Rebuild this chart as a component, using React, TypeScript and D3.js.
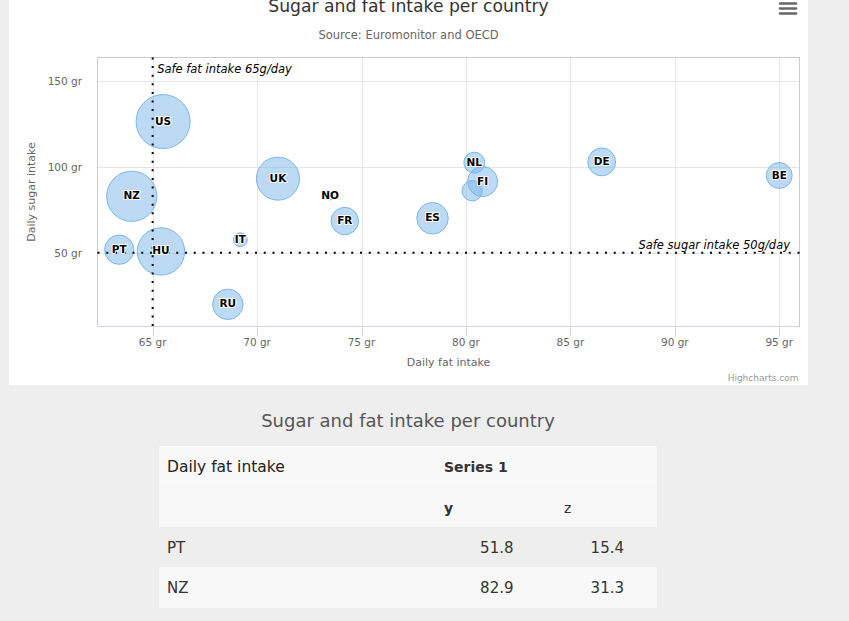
import React from "react";
import * as d3 from "d3";

const names = ["BE", "DE", "FI", "NL", "SE", "ES", "FR", "NO", "UK", "IT", "RU", "US", "HU", "PT", "NZ"];
const fatValues = [95, 86.5, 80.8, 80.4, 80.3, 78.4, 74.2, 73.5, 71, 69.2, 68.6, 65.5, 65.4, 63.4, 64];
const sugarValues = [95, 102.9, 91.5, 102.5, 86.1, 70.1, 68.5, 83.1, 93.2, 57.6, 20, 126.4, 50.8, 51.8, 82.9];
const zValues = [13.8, 14.7, 15.8, 12, 11.8, 16.6, 14.5, 10, 24.7, 10.4, 16, 35.3, 28.5, 15.4, 31.3];
const hiddenLabels = ["SE"];

const xTicks = [65, 70, 75, 80, 85, 90, 95];
const yTicks = [50, 100, 150];
const xExtent = [62.36, 95.97];
const yExtent = [7.1, 163.7];

const titleText = "Sugar and fat intake per country";
const subtitleText = "Source: Euromonitor and OECD";
const xTitle = "Daily fat intake";
const yTitle = "Daily sugar intake";
const fatLimit = 65;
const sugarLimit = 50;
const fatLimitLabel = "Safe fat intake 65g/day";
const sugarLimitLabel = "Safe sugar intake 50g/day";

const tableSeries = "Series 1";
const tableRows = ["PT", "NZ"];
const tableY = [51.8, 82.9];
const tableZ = [15.4, 31.3];

const FONT = "'DejaVu Sans', Verdana, sans-serif";

export default function App() {
  const W = 849, H = 621;
  const plot = { left: 97.5, right: 799.5, top: 57.5, bottom: 326.5 };
  const x = d3.scaleLinear().domain(xExtent).range([plot.left, plot.right]);
  const y = d3.scaleLinear().domain(yExtent).range([plot.bottom, plot.top]);
  const zMin = d3.min(zValues) as number;
  const zMax = d3.max(zValues) as number;
  const r = d3.scaleSqrt().domain([0, zMax - zMin]).range([4, 27]);

  const pts = names.map((n, i) => ({ name: n, fx: fatValues[i], sy: sugarValues[i], z: zValues[i] }));

  // table geometry
  const tL = 159, tR = 657, tTop = 446;
  const rowH = [40.5, 40.5, 40, 41, 40];
  const rowTops: number[] = [];
  let acc = tTop;
  rowH.forEach((h) => { rowTops.push(acc); acc += h; });

  return (
    <div style={{ position: "fixed", left: 0, top: 0, width: W, height: H, background: "#eeeeee" }}>
      <svg width={W} height={H} style={{ display: "block", fontFamily: FONT }}>
        <rect x={0} y={0} width={W} height={H} fill="#eeeeee" />
        {/* chart container */}
        <rect x={9} y={-20} width={799} height={405} fill="#ffffff" />
        {/* title */}
        <text x={408.5} y={11.5} textAnchor="middle" fontSize={17.2} fill="#333333">{titleText}</text>
        <text x={408.5} y={39} textAnchor="middle" fontSize={11.5} fill="#666666">{subtitleText}</text>
        {/* menu */}
        {[3.5, 8.5, 13.5].map((yy) => (
          <line key={yy} x1={780} x2={796} y1={yy} y2={yy} stroke="#666666" strokeWidth={2.5} strokeLinecap="round" />
        ))}
        {/* grid */}
        {xTicks.map((t) => (
          <line key={"gx" + t} x1={Math.round(x(t)) + 0.5} x2={Math.round(x(t)) + 0.5} y1={plot.top} y2={plot.bottom} stroke="#e6e6e6" />
        ))}
        {yTicks.map((t) => (
          <line key={"gy" + t} x1={plot.left} x2={plot.right} y1={Math.round(y(t)) + 0.5} y2={Math.round(y(t)) + 0.5} stroke="#e6e6e6" />
        ))}
        {/* plot border */}
        <rect x={plot.left} y={plot.top} width={plot.right - plot.left} height={plot.bottom - plot.top} fill="none" stroke="#cccccc" />
        <line x1={plot.left} x2={plot.right} y1={plot.bottom} y2={plot.bottom} stroke="#ccd6eb" />
        {xTicks.map((t) => (
          <line key={"tk" + t} x1={Math.round(x(t)) + 0.5} x2={Math.round(x(t)) + 0.5} y1={plot.bottom} y2={plot.bottom + 10} stroke="#ccd6eb" />
        ))}
        {/* tick labels */}
        {xTicks.map((t) => (
          <text key={"xl" + t} x={x(t)} y={346} textAnchor="middle" fontSize={10.5} fill="#666666">{t + " gr"}</text>
        ))}
        {yTicks.map((t) => (
          <text key={"yl" + t} x={82} y={y(t) + 4} textAnchor="end" fontSize={10.5} fill="#666666">{t + " gr"}</text>
        ))}
        <text x={(plot.left + plot.right) / 2} y={366} textAnchor="middle" fontSize={11} fill="#666666">{xTitle}</text>
        <text transform={`translate(34.5,${(plot.top + plot.bottom) / 2}) rotate(-90)`} textAnchor="middle" fontSize={11} fill="#666666">{yTitle}</text>
        {/* bubbles */}
        {pts.map((p) => (
          <circle key={"b" + p.name} cx={x(p.fx)} cy={y(p.sy)} r={r(p.z - zMin)} fill="rgba(124,181,236,0.5)" stroke="#7cb5ec" strokeWidth={1} />
        ))}
        {/* plot lines */}
        <line x1={x(fatLimit)} x2={x(fatLimit)} y1={plot.top} y2={plot.bottom} stroke="#000" strokeWidth={2} strokeDasharray="2,6.6" />
        <line x1={plot.left} x2={plot.right} y1={y(sugarLimit)} y2={y(sugarLimit)} stroke="#000" strokeWidth={2} strokeDasharray="2,6.75" />
        <text x={x(fatLimit) + 4.5} y={72.5} fontSize={11.5} fontStyle="italic" fill="#000">{fatLimitLabel}</text>
        <text x={790} y={248.5} textAnchor="end" fontSize={11.5} fontStyle="italic" fill="#000">{sugarLimitLabel}</text>
        {/* data labels */}
        {pts.filter((p) => !hiddenLabels.includes(p.name)).map((p) => (
          <text key={"l" + p.name} x={x(p.fx)} y={y(p.sy) + 3} textAnchor="middle" fontSize={10.5} fontWeight="bold" fill="#000"
            stroke="#ffffff" strokeWidth={2} strokeLinejoin="round" style={{ paintOrder: "stroke" }}>{p.name}</text>
        ))}
        {/* credits */}
        <text x={798.5} y={381} textAnchor="end" fontSize={9} fill="#999999">Highcharts.com</text>

        {/* data table */}
        <text x={408} y={427} textAnchor="middle" fontSize={18} fill="#555555">{titleText}</text>
        {rowTops.map((t, i) => (
          <rect key={"row" + i} x={tL} y={t} width={tR - tL} height={rowH[i]}
            fill={i < 2 || (i - 2) % 2 === 1 ? "#f8f8f8" : "#eeeeee"} />
        ))}
        <rect x={tL - 0.5} y={tTop - 0.5} width={tR - tL + 1} height={acc - tTop + 1} fill="none" stroke="#ebebeb" />
        <text x={167} y={472} fontSize={15.5} fill="#222222">{xTitle}</text>
        <text x={444} y={472} fontSize={14} fontWeight="bold" fill="#333333">{tableSeries}</text>
        <text x={444} y={513} fontSize={14} fontWeight="bold" fill="#333333">y</text>
        <text x={564} y={513} fontSize={14} fill="#333333">z</text>
        {tableRows.map((n, i) => (
          <g key={"tr" + n}>
            <text x={167} y={553 + i * 40} fontSize={15} fill="#333333">{n}</text>
            <text x={513.5} y={553 + i * 40} textAnchor="end" fontSize={15} fill="#333333">{tableY[i]}</text>
            <text x={624} y={553 + i * 40} textAnchor="end" fontSize={15} fill="#333333">{tableZ[i]}</text>
          </g>
        ))}
      </svg>
    </div>
  );
}
